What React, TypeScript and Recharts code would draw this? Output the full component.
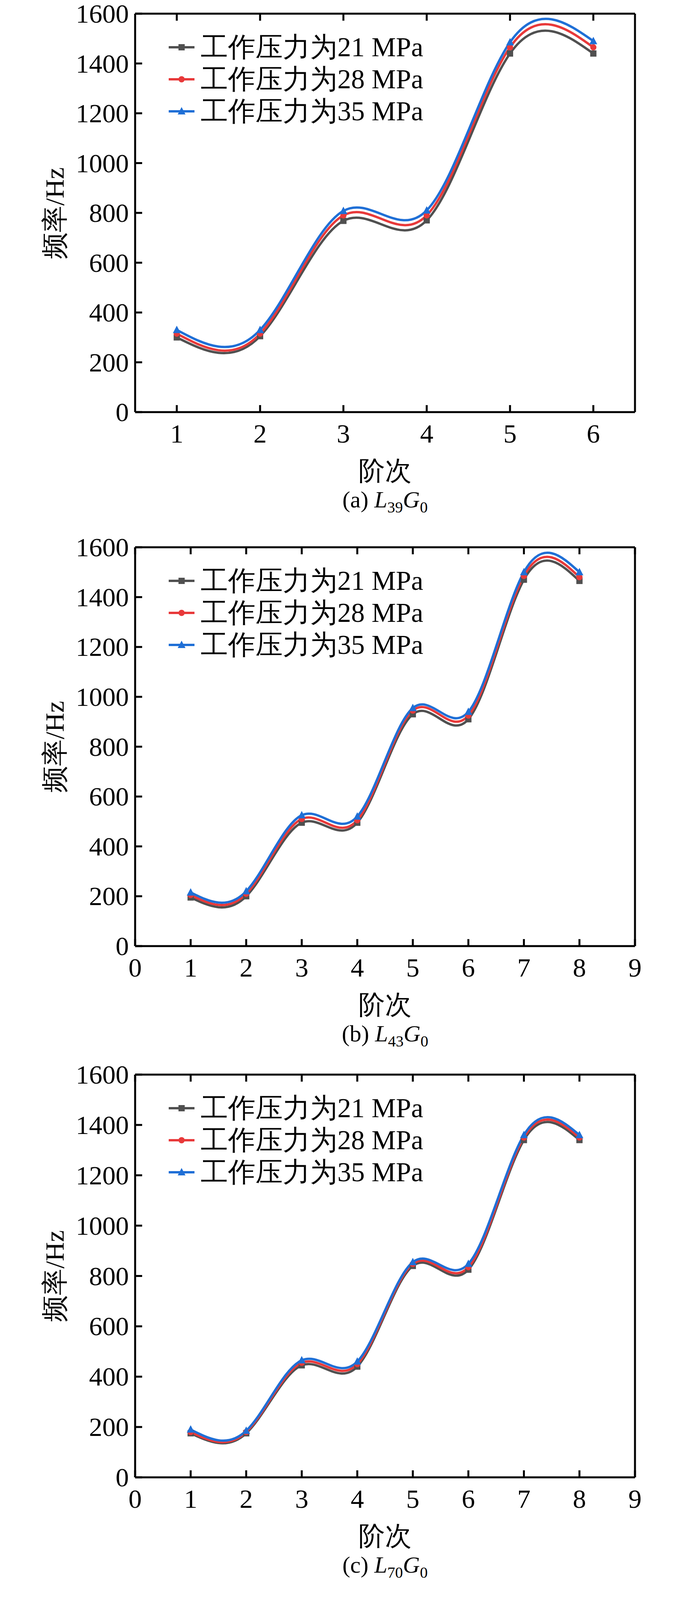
import { LineChart, Line, XAxis, YAxis } from "recharts";

// panel (a) L39G0
const ordersA = [1, 2, 3, 4, 5, 6];
const a21 = [300, 305, 768, 770, 1440, 1440];
const a28 = [315, 315, 790, 790, 1465, 1465];
const a35 = [330, 330, 808, 810, 1485, 1490];

// panel (b) L43G0
const ordersB = [1, 2, 3, 4, 5, 6, 7, 8];
const b21 = [195, 200, 495, 495, 930, 910, 1470, 1465];
const b28 = [205, 210, 510, 505, 945, 925, 1485, 1480];
const b35 = [215, 220, 525, 520, 955, 940, 1500, 1500];

// panel (c) L70G0
const ordersC = [1, 2, 3, 4, 5, 6, 7, 8];
const c21 = [175, 175, 445, 440, 840, 825, 1340, 1340];
const c28 = [180, 180, 455, 450, 848, 835, 1350, 1350];
const c35 = [190, 185, 465, 460, 855, 848, 1360, 1360];

// panel (d) L78G0
const ordersD = [1, 2, 3, 4];
const d21 = [335, 335, 885, 885];
const d28 = [340, 340, 890, 890];
const d35 = [350, 370, 900, 950];

const yTicks = [0, 200, 400, 600, 800, 1000, 1200, 1400, 1600];
const seriesNames = ["工作压力为21 MPa", "工作压力为28 MPa", "工作压力为35 MPa"];
const colors = ["#505050", "#e8393a", "#1f6fd6"];

const FONT = "'Liberation Serif', 'Times New Roman', serif";
const W = 1772;
const LEFT = 346;
const RIGHT = 146;
const TOP = 35;
const XAX = 110;
const TL = 18;

function Marker({ cx, cy, kind, color }: any) {
  if (cx == null || cy == null) return null;
  if (kind === 0) return <rect x={cx - 8} y={cy - 8} width={16} height={16} fill={color} />;
  if (kind === 1) return <circle cx={cx} cy={cy} r={8} fill={color} />;
  return <polygon points={`${cx},${cy - 11} ${cx - 10},${cy + 8} ${cx + 10},${cy + 8}`} fill={color} />;
}

interface PanelProps {
  top: number;
  plotH: number;
  orders: number[];
  s: number[][];
  domain: [number, number];
  xTicks: number[];
  tag: string;
  sub: string;
}

function Panel({ top, plotH, orders, s, domain, xTicks, tag, sub }: PanelProps) {
  const data = orders.map((o, i) => ({ x: o, v0: s[0][i], v1: s[1][i], v2: s[2][i] }));
  const H = TOP + plotH + XAX;
  const bottomY = TOP + plotH;
  const rightX = W - RIGHT;

  const bottomTick = (p: any) => (
    <g>
      <line x1={p.x} x2={p.x} y1={bottomY} y2={bottomY - TL} stroke="#000" strokeWidth={5} />
      <text x={p.x} y={bottomY + 78} textAnchor="middle" fontSize={68} fontFamily={FONT}>{p.payload.value}</text>
    </g>
  );
  const topTick = (p: any) => (
    <line x1={p.x} x2={p.x} y1={TOP} y2={TOP + TL} stroke="#000" strokeWidth={5} />
  );
  const leftTick = (p: any) => (
    <g>
      <line x1={LEFT} x2={LEFT + TL} y1={p.y} y2={p.y} stroke="#000" strokeWidth={5} />
      <text x={LEFT - 16} y={p.y + 23} textAnchor="end" fontSize={68} fontFamily={FONT}>{p.payload.value}</text>
    </g>
  );
  const rightTick = (p: any) => (
    <line x1={rightX} x2={rightX - TL} y1={p.y} y2={p.y} stroke="#000" strokeWidth={5} />
  );

  return (
    <div style={{ position: "absolute", left: 0, top: top - TOP, width: W, height: H + 260 }}>
      <LineChart width={W} height={H} data={data} margin={{ top: 0, right: 0, left: 0, bottom: 0 }}>
        <XAxis xAxisId="b" dataKey="x" type="number" domain={domain} ticks={xTicks} height={XAX}
          axisLine={{ stroke: "#000", strokeWidth: 5 }} tickLine={false} tick={bottomTick} allowDataOverflow />
        <XAxis xAxisId="t" orientation="top" dataKey="x" type="number" domain={domain} ticks={xTicks} height={TOP}
          axisLine={{ stroke: "#000", strokeWidth: 5 }} tickLine={false} tick={topTick} allowDataOverflow />
        <YAxis yAxisId="l" type="number" domain={[0, 1600]} ticks={yTicks} width={LEFT}
          axisLine={{ stroke: "#000", strokeWidth: 5 }} tickLine={false} tick={leftTick} />
        <YAxis yAxisId="r" orientation="right" type="number" domain={[0, 1600]} ticks={yTicks} width={RIGHT}
          axisLine={{ stroke: "#000", strokeWidth: 5 }} tickLine={false} tick={rightTick} />
        {[0, 1, 2].map((k) => (
          <Line key={k} xAxisId="b" yAxisId="l" type="natural" dataKey={`v${k}`} stroke={colors[k]} strokeWidth={6}
            dot={(p: any) => <Marker key={`${k}-${p.index}`} cx={p.cx} cy={p.cy} kind={k} color={colors[k]} />}
            isAnimationActive={false} />
        ))}
      </LineChart>
      <div style={{ position: "absolute", left: 430, top: TOP + 45, fontFamily: FONT, fontSize: 70 }}>
        {seriesNames.map((n, k) => (
          <div key={n} style={{ display: "flex", alignItems: "center", height: 82 }}>
            <svg width={70} height={30} style={{ marginRight: 14 }}>
              <line x1={2} x2={68} y1={15} y2={15} stroke={colors[k]} strokeWidth={6} />
              <Marker cx={35} cy={15} kind={k} color={colors[k]} />
            </svg>
            <span>{n}</span>
          </div>
        ))}
      </div>
      <div style={{ position: "absolute", left: 80, top: TOP, height: plotH, width: 120, display: "flex", alignItems: "center", justifyContent: "center" }}>
        <div style={{ transform: "rotate(-90deg)", whiteSpace: "nowrap", fontFamily: FONT, fontSize: 68 }}>频率/Hz</div>
      </div>
      <div style={{ position: "absolute", left: LEFT, width: W - LEFT - RIGHT, top: bottomY + 105, textAlign: "center", fontFamily: FONT, fontSize: 68 }}>阶次</div>
      <div style={{ position: "absolute", left: LEFT, width: W - LEFT - RIGHT, top: bottomY + 190, textAlign: "center", fontFamily: FONT, fontSize: 60 }}>
        ({tag}) <i>L</i><sub style={{ fontSize: 40 }}>{sub}</sub><i>G</i><sub style={{ fontSize: 40 }}>0</sub>
      </div>
    </div>
  );
}

export default function App() {
  return (
    <div style={{ position: "relative", margin: "-8px", width: W, height: 5492, background: "#fff", overflow: "hidden" }}>
      <Panel top={35} plotH={1020} orders={ordersA} s={[a21, a28, a35]} domain={[0.5, 6.5]} xTicks={ordersA} tag="a" sub="39" />
      <Panel top={1401} plotH={1021} orders={ordersB} s={[b21, b28, b35]} domain={[0, 9]} xTicks={[0, 1, 2, 3, 4, 5, 6, 7, 8, 9]} tag="b" sub="43" />
      <Panel top={2751} plotH={1031} orders={ordersC} s={[c21, c28, c35]} domain={[0, 9]} xTicks={[0, 1, 2, 3, 4, 5, 6, 7, 8, 9]} tag="c" sub="70" />
      <Panel top={4180} plotH={969} orders={ordersD} s={[d21, d28, d35]} domain={[0.5, 4.5]} xTicks={ordersD} tag="d" sub="78" />
    </div>
  );
}
